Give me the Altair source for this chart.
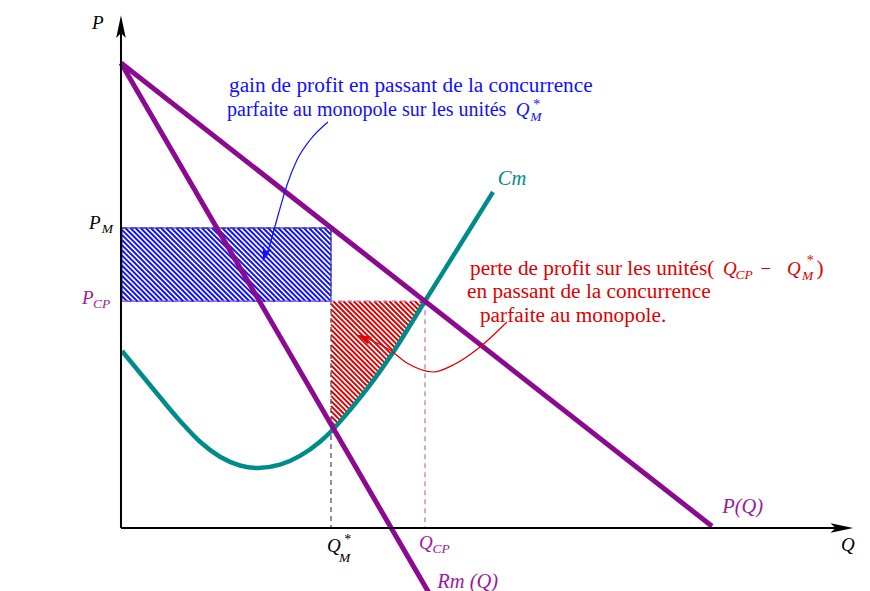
import altair as alt
import numpy as np
import pandas as pd

# ---------------- data (economic units) ----------------
demand_Q = [0.0, 98.5]
demand_P = [77.5, 0.3]
rm_Q = [0.0, 53.0]
rm_P = [77.5, -13.7]
# Marginal cost Cm
cm_Q = [0.17, 4.83, 10.0, 13.17, 16.5, 19.83, 22.83, 26.5, 29.83, 33.17, 35.0, 38.17, 41.0, 45.33, 50.67, 56.5, 62.0]
cm_P = [29.5, 23.83, 17.67, 14.37, 11.88, 10.42, 10.0, 10.55, 12.02, 14.38, 16.08, 19.67, 23.17, 29.25, 37.83, 47.17, 56.0]
# Key levels
Q_M = 35.0
Q_CP = 50.67
P_M = 50.0
P_CP = 37.8
Q_LEFT = 0.17

Q_AXIS_END = 122.0
P_AXIS_END = 85.5

blue_arrow_Q = [34.5, 31.5, 29.33, 27.67, 26.33, 25.17, 24.17]
blue_arrow_P = [67.67, 64.67, 61.33, 57.17, 52.67, 48.5, 45.0]
red_arrow_Q = [64.33, 59.83, 55.67, 52.0, 47.67, 44.83, 42.33, 39.83]
red_arrow_P = [34.33, 30.17, 27.33, 26.0, 27.5, 29.67, 31.0, 32.0]

PURPLE = "#8b0a8f"
PURPLE_LBL = "#9a1a9a"
PURPLE_DASH = "#c478c8"
TEAL = "#008b8b"
BLUE = "#1010ff"
RED = "#dd0000"
GRAY = "#555555"
FONT = "Liberation Serif"
TXT = 21.3
MATH = 19
SUB = 13.5

XD = [-18.83, 123.5]
YD = [-10.5, 86.67]
W, H = 854, 583


def X(field="Q"):
    return alt.X(f"{field}:Q", scale=alt.Scale(domain=XD, nice=False, zero=False), axis=None)


def Y(field="P"):
    return alt.Y(f"{field}:Q", scale=alt.Scale(domain=YD, nice=False, zero=False), axis=None)


# ---------------- hatching ----------------
step = 0.85
rows = []
c = Q_LEFT + P_CP
while c <= Q_M + P_M:
    q0 = max(Q_LEFT, c - P_M)
    q1 = min(Q_M, c - P_CP)
    if q1 > q0:
        rows.append({"Q": q0, "P": c - q0, "Q2": q1, "P2": c - q1})
    c += step
blue_hatch = pd.DataFrame(rows)

grid = np.linspace(Q_M, Q_CP, 400)
cm_grid = np.interp(grid, cm_Q, cm_P)
fvals = cm_grid + grid
rows = []
c = Q_M + np.interp(Q_M, cm_Q, cm_P)
while c <= Q_CP + P_CP:
    q0 = max(Q_M, c - P_CP)
    q1 = float(np.interp(c, fvals, grid))
    if q1 > q0:
        rows.append({"Q": q0, "P": c - q0, "Q2": q1, "P2": c - q1})
    c += step
red_hatch = pd.DataFrame(rows)


def seg_layer(df, color, width, dash=None, clip=False):
    kw = dict(color=color, strokeWidth=width, clip=clip)
    if dash:
        kw["strokeDash"] = dash
    return alt.Chart(df).mark_rule(**kw).encode(
        x=X("Q"), y=Y("P"), x2=alt.X2("Q2"), y2=alt.Y2("P2")
    )


hatch_b = seg_layer(blue_hatch, BLUE, 1.9)
hatch_r = seg_layer(red_hatch, RED, 1.9)

rect_outline = alt.Chart(pd.DataFrame([{"Q": Q_LEFT, "P": P_CP, "Q2": Q_M, "P2": P_M}])).mark_rect(
    fill=None, stroke=BLUE, strokeWidth=1
).encode(x=X("Q"), y=Y("P"), x2=alt.X2("Q2"), y2=alt.Y2("P2"))

gray_dash = seg_layer(pd.DataFrame([
    {"Q": Q_LEFT, "P": P_M, "Q2": Q_M, "P2": P_M},
    {"Q": Q_M, "P": P_M, "Q2": Q_M, "P2": 0.0},
]), GRAY, 1.3, dash=[5, 4])
purple_dash = seg_layer(pd.DataFrame([
    {"Q": Q_LEFT, "P": P_CP, "Q2": Q_CP, "P2": P_CP},
    {"Q": Q_CP, "P": P_CP, "Q2": Q_CP, "P2": 0.0},
]), PURPLE_DASH, 1.3, dash=[5, 4])

# ---------------- curves ----------------
cm_df = pd.DataFrame({"Q": cm_Q, "P": cm_P})
cm_line = alt.Chart(cm_df).mark_line(color=TEAL, strokeWidth=4.5, interpolate="monotone").encode(x=X(), y=Y())

dem_df = pd.DataFrame({"Q": demand_Q, "P": demand_P})
dem_line = alt.Chart(dem_df).mark_line(color=PURPLE, strokeWidth=5).encode(x=X(), y=Y())
rm_df = pd.DataFrame({"Q": rm_Q, "P": rm_P})
rm_line = alt.Chart(rm_df).mark_line(color=PURPLE, strokeWidth=5, clip=True).encode(x=X(), y=Y())

# ---------------- axes ----------------
axes = seg_layer(pd.DataFrame([
    {"Q": 0.0, "P": 0.0, "Q2": Q_AXIS_END - 2, "P2": 0.0},
    {"Q": 0.0, "P": 0.0, "Q2": 0.0, "P2": P_AXIS_END - 2},
]), "black", 2)

UP = "M0,-1 L0.42,1 L0,0.55 L-0.42,1 Z"
ax_arrows = pd.DataFrame([
    {"Q": 0.0, "P": P_AXIS_END - 1.95, "angle": 0},
    {"Q": Q_AXIS_END - 1.85, "P": 0.0, "angle": 90},
])
ax_heads = alt.Chart(ax_arrows).mark_point(shape=UP, filled=True, color="black", size=520, opacity=1).encode(
    x=X(), y=Y(), angle=alt.Angle("angle:Q", scale=None)
)

# ---------------- annotation arrows ----------------
ba = alt.Chart(pd.DataFrame({"Q": blue_arrow_Q, "P": blue_arrow_P})).mark_line(
    color=BLUE, strokeWidth=1.2, interpolate="monotone").encode(x=X(), y=Y())
ra = alt.Chart(pd.DataFrame({"Q": red_arrow_Q, "P": red_arrow_P})).mark_line(
    color=RED, strokeWidth=1.2, interpolate="monotone").encode(x=X(), y=Y())
STEALTH = "M0,-1 L0.6,1 L0,0.45 L-0.6,1 Z"
heads = pd.DataFrame([
    {"Q": 24.0, "P": 45.6, "angle": 198, "c": BLUE},
    {"Q": 40.5, "P": 31.7, "angle": 295, "c": RED},
])
ann_heads = alt.Chart(heads).mark_point(shape=STEALTH, filled=True, size=220, opacity=1).encode(
    x=X(), y=Y(), angle=alt.Angle("angle:Q", scale=None), color=alt.Color("c:N", scale=None)
)

# ---------------- texts ----------------
italic_labels = pd.DataFrame([
    {"t": "P", "Q": -4.83, "P": 83.17, "c": "black", "s": MATH},
    {"t": "Q", "Q": 120.0, "P": -3.83, "c": "black", "s": MATH},
    {"t": "P", "Q": -5.33, "P": 49.83, "c": "black", "s": MATH},
    {"t": "M", "Q": -3.2, "P": 49.17, "c": "black", "s": SUB},
    {"t": "P", "Q": -6.5, "P": 37.33, "c": PURPLE_LBL, "s": MATH},
    {"t": "CP", "Q": -4.67, "P": 36.67, "c": PURPLE_LBL, "s": SUB},
    {"t": "Q", "Q": 34.33, "P": -4.0, "c": "black", "s": MATH},
    {"t": "M", "Q": 36.33, "P": -5.67, "c": "black", "s": SUB},
    {"t": "Q", "Q": 49.67, "P": -3.5, "c": PURPLE_LBL, "s": MATH},
    {"t": "CP", "Q": 51.9, "P": -4.17, "c": PURPLE_LBL, "s": SUB},
    {"t": "Cm", "Q": 62.8, "P": 57.17, "c": TEAL, "s": 20.5},
    {"t": "P(Q)", "Q": 100.2, "P": 2.5, "c": PURPLE_LBL, "s": 20.5},
    {"t": "Rm (Q)", "Q": 52.7, "P": -10.0, "c": PURPLE_LBL, "s": 20.5},
    {"t": "Q", "Q": 65.8, "P": 68.67, "c": BLUE, "s": MATH},
    {"t": "M", "Q": 68.2, "P": 67.83, "c": BLUE, "s": SUB},
    {"t": "Q", "Q": 100.33, "P": 42.17, "c": RED, "s": MATH},
    {"t": "CP", "Q": 102.4, "P": 41.5, "c": RED, "s": SUB},
    {"t": "Q", "Q": 111.0, "P": 42.17, "c": RED, "s": MATH},
    {"t": "M", "Q": 113.5, "P": 41.33, "c": RED, "s": SUB},
])
normal_labels = pd.DataFrame([
    {"t": "*", "Q": 37.2, "P": -2.6, "c": "black", "s": 14},
    {"t": "*", "Q": 68.7, "P": 69.9, "c": BLUE, "s": 14},
    {"t": "*", "Q": 114.3, "P": 43.8, "c": RED, "s": 14},
    {"t": "gain de profit en passant de la concurrence", "Q": 18.0, "P": 72.67, "c": BLUE, "s": TXT},
    {"t": "parfaite au monopole sur les unités", "Q": 17.67, "P": 68.67, "c": BLUE, "s": 20.0},
    {"t": "perte de profit sur les unités(", "Q": 58.17, "P": 42.17, "c": RED, "s": TXT},
    {"t": "−", "Q": 106.6, "P": 42.17, "c": RED, "s": MATH},
    {"t": ")", "Q": 115.9, "P": 42.17, "c": RED, "s": TXT},
    {"t": "en passant de la concurrence", "Q": 57.67, "P": 38.33, "c": RED, "s": TXT},
    {"t": "parfaite au monopole.", "Q": 59.83, "P": 34.33, "c": RED, "s": TXT},
])


def text_layer(df, style):
    return alt.Chart(df).mark_text(font=FONT, fontStyle=style, align="left", baseline="alphabetic").encode(
        x=X(), y=Y(), text="t:N", color=alt.Color("c:N", scale=None), size=alt.Size("s:Q", scale=None)
    )


chart = alt.layer(
    hatch_b, hatch_r, rect_outline, gray_dash, purple_dash,
    cm_line, dem_line, rm_line, axes, ax_heads, ba, ra, ann_heads,
    text_layer(italic_labels, "italic"), text_layer(normal_labels, "normal"),
).properties(width=W, height=H, padding=0, autosize="none").configure_view(stroke=None)

chart.save("out.html", embed_options={"renderer": "svg", "actions": False})
